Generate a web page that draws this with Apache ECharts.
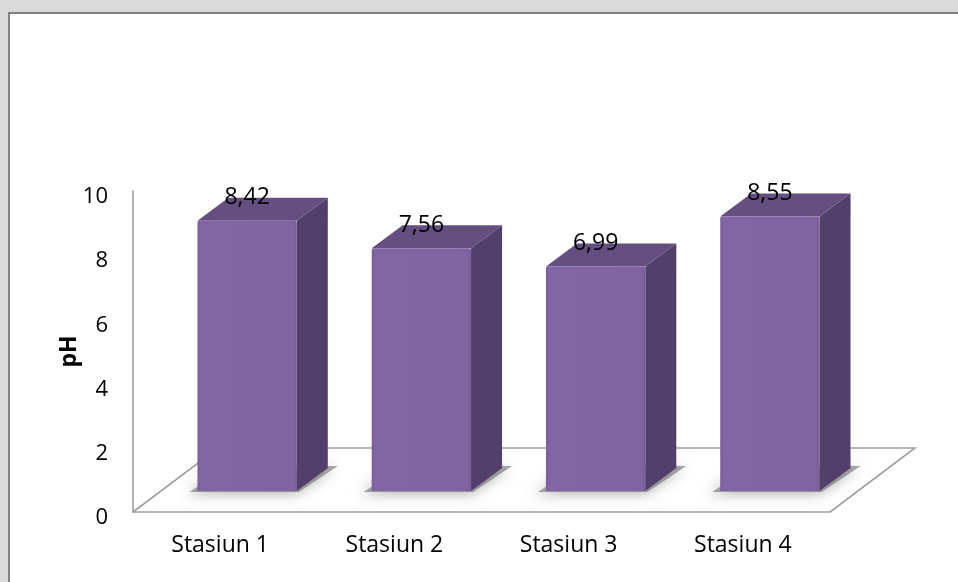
<!DOCTYPE html>
<html>
<head>
<meta charset="utf-8">
<script src="https://cdn.jsdelivr.net/npm/echarts@6/dist/echarts.min.js"></script>
<style>
  html, body { margin: 0; padding: 0; background: #dadada; }
  #chart { width: 958px; height: 582px; }
</style>
</head>
<body>
<div id="chart"></div>
<script>
// pH per sampling station
const categories = ['Stasiun 1', 'Stasiun 2', 'Stasiun 3', 'Stasiun 4'];
const phValues = [8.42, 7.56, 6.99, 8.55];

// value axis ticks
const yMin = 0;
const yMax = 10;
const yStep = 2;

// pseudo-3D projection offsets (pixels)
const MID_DX = 27, MID_DY = -21;     // bars stand halfway into the floor
const BAR_DX = 31, BAR_DY = -23;     // depth of each box
const FLOOR_DX = 85, FLOOR_DY = -64; // depth of the floor plane

const TOP = '#644f80';
const SIDE = '#523f6b';

function fmt(v) {
  return v.toFixed(2).replace('.', ',');
}

function renderFloor(params, api) {
  const cs = params.coordSys;
  const x = cs.x, y = cs.y + cs.height, w = cs.width;
  return {
    type: 'polyline',
    silent: true,
    shape: {
      points: [
        [x, y],
        [x + FLOOR_DX, y + FLOOR_DY],
        [x + w + FLOOR_DX, y + FLOOR_DY],
        [x + w, y]
      ]
    },
    style: { stroke: '#a0a0a0', lineWidth: 1.6, fill: null }
  };
}

function renderBox(params, api) {
  const cat = api.value(0);
  const v = api.value(1);
  const base = api.coord([cat, 0]);
  const top = api.coord([cat, v]);
  const band = api.size([1, 0])[0];
  const w = band * 0.57;
  const cx = base[0] + MID_DX;
  const x0 = cx - w / 2, x1 = cx + w / 2;
  const yb = base[1] + MID_DY;
  const yt = top[1] + MID_DY;

  return {
    type: 'group',
    children: [
      {
        // soft contact shadow on the floor
        type: 'polygon',
        shape: {
          points: [
            [x0 - 8, yb + 1],
            [x1 + 2, yb + 1],
            [x1 + BAR_DX + 10, yb + BAR_DY - 2],
            [x0 + BAR_DX, yb + BAR_DY - 2]
          ]
        },
        style: {
          fill: 'rgba(110,110,110,0.6)',
          shadowBlur: 14,
          shadowColor: 'rgba(0,0,0,0.5)',
          shadowOffsetX: -3,
          shadowOffsetY: 2
        }
      },
      {
        type: 'polygon',
        shape: {
          points: [
            [x1, yb],
            [x1, yt],
            [x1 + BAR_DX, yt + BAR_DY],
            [x1 + BAR_DX, yb + BAR_DY]
          ]
        },
        style: { fill: SIDE }
      },
      {
        type: 'polygon',
        shape: {
          points: [
            [x0, yt],
            [x1, yt],
            [x1 + BAR_DX, yt + BAR_DY],
            [x0 + BAR_DX, yt + BAR_DY]
          ]
        },
        style: { fill: TOP }
      },
      {
        type: 'rect',
        shape: { x: x0, y: yt, width: x1 - x0, height: yb - yt, r: [2, 2, 0, 0] },
        style: {
          fill: {
            type: 'linear', x: 0, y: 0, x2: 1, y2: 0,
            colorStops: [
              { offset: 0, color: '#7a5f9b' },
              { offset: 0.04, color: '#8265a5' },
              { offset: 0.96, color: '#8064a2' },
              { offset: 1, color: '#775c98' }
            ]
          }
        }
      },
      {
        type: 'text',
        style: {
          text: fmt(v),
          x: cx,
          y: yt + BAR_DY,
          align: 'center',
          verticalAlign: 'middle',
          fill: '#000',
          font: '23px "Open Sans"'
        }
      }
    ]
  };
}

const chart = echarts.init(document.getElementById('chart'), null, { renderer: 'canvas' });

chart.setOption({
  backgroundColor: 'transparent',
  animation: false,
  graphic: [
    {
      type: 'rect',
      z: -10,
      silent: true,
      shape: { x: 9, y: 13, width: 960, height: 580 },
      style: { fill: '#ffffff', stroke: '#808080', lineWidth: 2 }
    }
  ],
  grid: { left: 133, right: 128, top: 191, bottom: 70, containLabel: false },
  xAxis: {
    type: 'category',
    data: categories,
    boundaryGap: true,
    axisLine: { show: true, lineStyle: { color: '#a0a0a0', width: 1.6 } },
    axisTick: { show: false },
    axisLabel: {
      margin: 22,
      color: '#000',
      fontFamily: 'Open Sans',
      fontSize: 23
    },
    splitLine: { show: false }
  },
  yAxis: {
    type: 'value',
    min: yMin,
    max: yMax,
    interval: yStep,
    name: 'pH',
    nameLocation: 'middle',
    nameRotate: 90,
    nameGap: 52,
    nameMoveOverlap: false,
    nameTextStyle: {
      color: '#000',
      fontFamily: 'Open Sans',
      fontWeight: 'bold',
      fontSize: 23
    },
    axisLine: { show: true, lineStyle: { color: '#a0a0a0', width: 1.6 } },
    axisTick: { show: false },
    axisLabel: {
      margin: 25,
      color: '#000',
      fontFamily: 'Open Sans',
      fontSize: 22,
      verticalAlign: 'top',
      lineHeight: 12
    },
    splitLine: { show: false }
  },
  series: [
    {
      type: 'custom',
      name: 'floor',
      silent: true,
      renderItem: renderFloor,
      data: [[0, 0]],
      z: 1
    },
    {
      type: 'custom',
      name: 'pH',
      renderItem: renderBox,
      encode: { x: 0, y: 1 },
      data: phValues.map((v, i) => [i, v]),
      z: 2
    }
  ]
});
</script>
</body>
</html>
